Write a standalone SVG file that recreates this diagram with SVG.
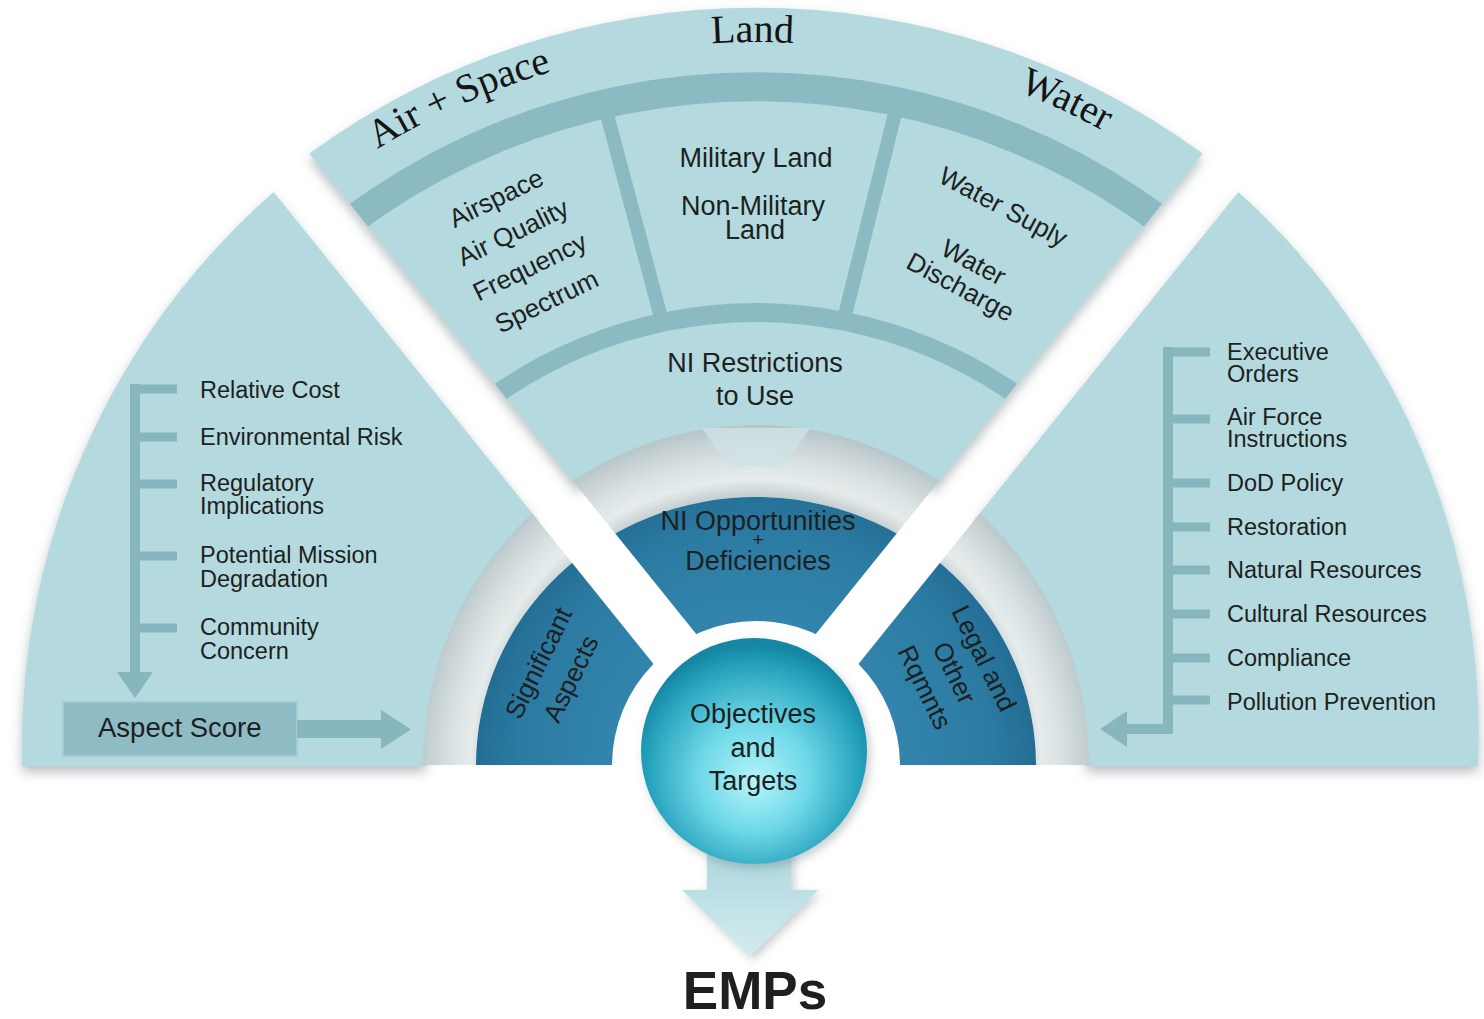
<svg xmlns="http://www.w3.org/2000/svg" width="1484" height="1019" viewBox="0 0 1484 1019">
<defs>
<style>
.sector{fill:#b4dae0}
.band{fill:#8cbac3}
.divider{stroke:#8cbac3;stroke-width:14;fill:none}
.tree{fill:#88b6bf}
.t{font-family:"Liberation Sans",Arial,sans-serif;fill:#1d1f20}
.serif{font-family:"Liberation Serif","Times New Roman",serif;fill:#141414;font-size:40px}
.dark{fill:url(#darkGrad)}
</style>
<filter id="shadow" x="-10%" y="-10%" width="120%" height="125%">
<feGaussianBlur in="SourceAlpha" stdDeviation="6"/>
<feOffset dx="0" dy="6" result="b"/>
<feFlood flood-color="#5f7077" flood-opacity="0.45"/>
<feComposite in2="b" operator="in"/>
<feMerge><feMergeNode/><feMergeNode in="SourceGraphic"/></feMerge>
</filter>
<filter id="soft" x="-20%" y="-20%" width="140%" height="140%">
<feGaussianBlur in="SourceAlpha" stdDeviation="5"/>
<feOffset dx="3" dy="4" result="b"/>
<feFlood flood-color="#5f7077" flood-opacity="0.35"/>
<feComposite in2="b" operator="in"/>
<feMerge><feMergeNode/><feMergeNode in="SourceGraphic"/></feMerge>
</filter>
<radialGradient id="darkGrad" gradientUnits="userSpaceOnUse" cx="756" cy="765" r="280">
<stop offset="0.5" stop-color="#3385ad"/>
<stop offset="0.85" stop-color="#2b7aa2"/>
<stop offset="1" stop-color="#236d93"/>
</radialGradient>
<radialGradient id="grayGrad" gradientUnits="userSpaceOnUse" cx="756" cy="765" r="340">
<stop offset="0.79" stop-color="#c4ced0"/>
<stop offset="0.84" stop-color="#e6ecec"/>
<stop offset="0.9" stop-color="#d9e1e2"/>
<stop offset="0.96" stop-color="#c6d1d3"/>
<stop offset="1" stop-color="#b6c5c8"/>
</radialGradient>
<radialGradient id="ballGrad" cx="0.5" cy="0.58" r="0.55" fx="0.5" fy="0.64">
<stop offset="0" stop-color="#b5f5fb"/>
<stop offset="0.45" stop-color="#6dd7e7"/>
<stop offset="0.85" stop-color="#26a2bd"/>
<stop offset="1" stop-color="#1587a3"/>
</radialGradient>
<linearGradient id="arrowGrad" x1="0" y1="0" x2="0" y2="1">
<stop offset="0" stop-color="#a6d2da"/>
<stop offset="1" stop-color="#d2ecef"/>
</linearGradient>
<mask id="stripes" maskUnits="userSpaceOnUse" x="0" y="0" width="1484" height="1019">
<rect width="1484" height="1019" fill="#fff"/>
<polygon points="70.7,-60 137.5,-60 829.8,800 763,800" fill="#000"/>
<polygon points="1441.3,-60 1374.5,-60 682.2,800 749,800" fill="#000"/>
</mask>
<clipPath id="topClip"><path d="M309.4,153.5 A757,757 0 0 1 1202.6,153.5 L934,487.1 A330,330 0 0 0 578,487.1 Z"/></clipPath>
<clipPath id="clipSig"><polygon points="0,-100 72,-100 796.4,800 0,800"/></clipPath>
<clipPath id="clipNI"><polygon points="72,-100 1440,-100 756,749.8"/></clipPath>
<clipPath id="clipLegal"><polygon points="1440,-100 1484,-100 1484,800 715.6,800"/></clipPath>
<path id="darkRing" d="M476,765 A280,268 0 0 1 1036,765 L900,765 A144,144 0 0 0 612,765 Z"/>
<path id="labelArc" d="M129.9,403.5 A723,723 0 0 1 1382.1,403.5" fill="none"/>
</defs>

<rect width="1484" height="1019" fill="#ffffff"/>

<g id="node-left-sector">
<path class="sector" filter="url(#shadow)" d="M22,766 A740,740 0 0 1 273.6,192 L536.5,518.5 A330,330 0 0 0 426,766 Z"/>
<g class="t" font-size="23.5">
<text x="200" y="398">Relative Cost</text>
<text x="200" y="445">Environmental Risk</text>
<text x="200" y="491">Regulatory</text>
<text x="200" y="514">Implications</text>
<text x="200" y="563">Potential Mission</text>
<text x="200" y="587">Degradation</text>
<text x="200" y="635">Community</text>
<text x="200" y="659">Concern</text>
</g>
</g>

<g id="node-top-sector">
<path class="sector" filter="url(#shadow)" d="M309.4,153.5 A757,757 0 0 1 1202.6,153.5 L934,487.1 A330,330 0 0 0 578,487.1 Z"/>
<g clip-path="url(#topClip)">
<path class="band" d="M63,765 A693,693 0 0 1 1449,765 L1420,765 A664,664 0 0 0 92,765 Z"/>
<path class="band" d="M294,765 A462,462 0 0 1 1218,765 L1199,765 A443,443 0 0 0 313,765 Z"/>
<line class="divider" x1="603.2" y1="100" x2="662.2" y2="322"/>
<line class="divider" x1="898.3" y1="100" x2="843.3" y2="322"/>
</g>
<text class="serif" text-anchor="middle"><textPath href="#labelArc" startOffset="454.3">Air + Space</textPath></text>
<text class="serif" text-anchor="middle"><textPath href="#labelArc" startOffset="753.4">Land</textPath></text>
<text class="serif" text-anchor="middle"><textPath href="#labelArc" startOffset="1072.6">Water</textPath></text>
<g id="node-air-space" class="t" font-size="26" text-anchor="middle" transform="translate(521.5,250) rotate(-26)">
<text x="0" y="-49">Airspace</text>
<text x="0" y="-10.7">Air Quality</text>
<text x="0" y="27.7">Frequency</text>
<text x="0" y="66">Spectrum</text>
</g>
<g id="node-land" class="t" font-size="27" text-anchor="middle">
<text x="756" y="167">Military Land</text>
<text x="753" y="215">Non-Military</text>
<text x="755" y="239">Land</text>
</g>
<g id="node-water" class="t" font-size="26" text-anchor="middle" transform="translate(1003,207) rotate(28)">
<text x="0" y="8.5">Water Suply</text>
<text x="0" y="71.5">Water</text>
<text x="0" y="99.5">Discharge</text>
</g>
<g id="node-ni-restrictions" class="t" font-size="27" text-anchor="middle">
<text x="755" y="372">NI Restrictions</text>
<text x="755" y="405">to Use</text>
</g>
</g>

<g id="node-right-sector">
<path class="sector" filter="url(#shadow)" d="M1478,766 A729,729 0 0 0 1238.4,192 L975.5,518.5 A330,330 0 0 1 1086,766 Z"/>
<g class="t" font-size="23.5">
<text x="1227" y="360">Executive</text>
<text x="1227" y="382">Orders</text>
<text x="1227" y="425">Air Force</text>
<text x="1227" y="447">Instructions</text>
<text x="1227" y="491">DoD Policy</text>
<text x="1227" y="535">Restoration</text>
<text x="1227" y="578">Natural Resources</text>
<text x="1227" y="622">Cultural Resources</text>
<text x="1227" y="666">Compliance</text>
<text x="1227" y="710">Pollution Prevention</text>
</g>
</g>

<g id="ring">
<path d="M423,765 A333,340 0 0 1 1089,765 L1036,765 A280,268 0 0 0 476,765 Z" fill="url(#grayGrad)" mask="url(#stripes)"/>
<path d="M702,428 L810,428 L784,466 L728,466 Z" fill="#cfe2e5" opacity="0.8"/>
</g>

<g id="node-significant-aspects">
<use href="#darkRing" class="dark" clip-path="url(#clipSig)" mask="url(#stripes)"/>
<g class="t" font-size="26" text-anchor="middle" transform="translate(555,671) rotate(-64)">
<text x="0" y="-9.5">Significant</text>
<text x="0" y="26.5">Aspects</text>
</g>
</g>

<g id="node-ni-opportunities">
<use href="#darkRing" class="dark" clip-path="url(#clipNI)" mask="url(#stripes)"/>
<g class="t" text-anchor="middle">
<text x="758" y="530" font-size="27">NI Opportunities</text>
<text x="758" y="546" font-size="19">+</text>
<text x="758" y="570" font-size="27">Deficiencies</text>
</g>
</g>

<g id="node-legal">
<use href="#darkRing" class="dark" clip-path="url(#clipLegal)" mask="url(#stripes)"/>
<g class="t" font-size="26" text-anchor="middle" transform="translate(954,673) rotate(64)">
<text x="0" y="-24.5">Legal and</text>
<text x="0" y="8.5">Other</text>
<text x="0" y="41.5">Rqmnts</text>
</g>
</g>

<g id="node-aspect-score">
<rect x="63" y="702" width="234" height="54" fill="#8ebbc4" stroke="#a3cbd2" stroke-width="2"/>
<text class="t" x="98" y="737" font-size="27.5">Aspect Score</text>
</g>

<g id="connectors">
<g id="left-tree" class="tree">
<rect x="130" y="384" width="10" height="290"/>
<rect x="130" y="384.5" width="47" height="9"/>
<rect x="130" y="432.5" width="47" height="9"/>
<rect x="130" y="479.5" width="47" height="9"/>
<rect x="130" y="551.5" width="47" height="9"/>
<rect x="130" y="623.5" width="47" height="9"/>
<polygon points="117,672 153,672 135,698"/>
</g>
<g id="aspect-arrow" class="tree">
<rect x="297" y="720" width="86" height="18"/>
<polygon points="381,710 381,749 411,729.5"/>
</g>
<g id="right-tree" class="tree">
<rect x="1163" y="347" width="10" height="387"/>
<rect x="1163" y="347.5" width="47" height="9"/>
<rect x="1163" y="414.5" width="47" height="9"/>
<rect x="1163" y="478.5" width="47" height="9"/>
<rect x="1163" y="522.5" width="47" height="9"/>
<rect x="1163" y="565.5" width="47" height="9"/>
<rect x="1163" y="609.5" width="47" height="9"/>
<rect x="1163" y="653.5" width="47" height="9"/>
<rect x="1163" y="695.5" width="47" height="9"/>
<rect x="1124" y="724" width="49" height="10"/>
<polygon points="1127,711 1127,747 1100,729"/>
</g>
<g id="emps-arrow" filter="url(#soft)">
<polygon points="707,830 791,830 791,890 818,890 750,956 682,890 707,890" fill="url(#arrowGrad)"/>
</g>
</g>

<g id="node-objectives">
<circle cx="754" cy="751" r="113" fill="url(#ballGrad)" filter="url(#soft)"/>
<g class="t" font-size="27" text-anchor="middle">
<text x="753" y="723">Objectives</text>
<text x="753" y="757">and</text>
<text x="753" y="790">Targets</text>
</g>
</g>

<g id="node-emps">
<text class="t" x="755" y="1009" font-size="53" font-weight="bold" text-anchor="middle" fill="#111">EMPs</text>
</g>
</svg>
